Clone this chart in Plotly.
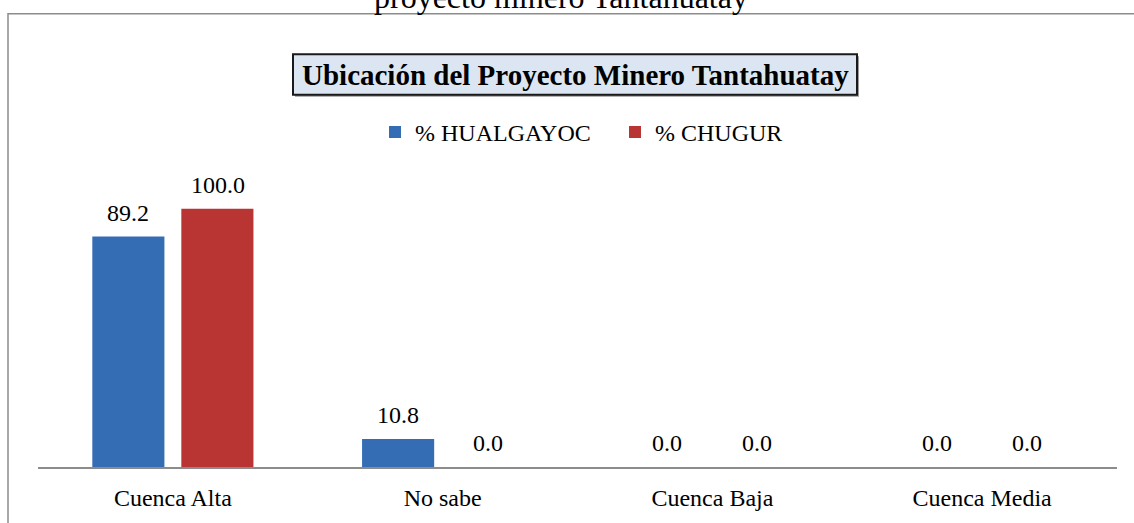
import plotly.graph_objects as go

categories = ["Cuenca Alta", "No sabe", "Cuenca Baja", "Cuenca Media"]
hualgayoc = [89.2, 10.8, 0.0, 0.0]
chugur = [100.0, 0.0, 0.0, 0.0]
series_names = ["% HUALGAYOC", "% CHUGUR"]
chart_title = "Ubicación del Proyecto Minero Tantahuatay"
top_caption = "proyecto minero Tantahuatay"

W, H = 1134, 523
L, R, T, B = 38, 17, 157, 52
PW = W - L - R
PH = H - T - B


def px_x(p):
    return (p - L) / PW


def px_y(p):
    return (H - B - p) / PH


FONT = "Liberation Serif, Times New Roman, serif"

fig = go.Figure()
fig.add_trace(go.Bar(x=categories, y=hualgayoc, name=series_names[0],
                     marker=dict(color="#356db5", line=dict(width=0))))
fig.add_trace(go.Bar(x=categories, y=chugur, name=series_names[1],
                     marker=dict(color="#b93533", line=dict(width=0))))

# data labels
for vals, shift in ((hualgayoc, -45), (chugur, 45)):
    for c, v in zip(categories, vals):
        fig.add_annotation(x=c, y=v, xref="x", yref="y", text=f"{v:.1f}",
                           showarrow=False, xshift=shift, yanchor="bottom",
                           yshift=9, font=dict(family=FONT, size=24, color="black"))

# outer border
fig.add_shape(type="rect", xref="paper", yref="paper",
              x0=px_x(8), x1=px_x(1150), y0=px_y(540), y1=px_y(12),
              line=dict(color="#8c8c8c", width=1.5), fillcolor="rgba(0,0,0,0)", layer="below")

# title box
fig.add_shape(type="rect", xref="paper", yref="paper",
              x0=px_x(295), x1=px_x(859), y0=px_y(96), y1=px_y(55),
              line=dict(width=0), fillcolor="#9a9a9a")
fig.add_shape(type="rect", xref="paper", yref="paper",
              x0=px_x(293), x1=px_x(857), y0=px_y(94), y1=px_y(53),
              line=dict(color="#1a1a1a", width=2), fillcolor="#dce6f2")
fig.add_annotation(x=px_x(575), y=px_y(74), xref="paper", yref="paper",
                   text=f"<b>{chart_title}</b>", showarrow=False,
                   xanchor="center", yanchor="middle",
                   font=dict(family=FONT, size=29, color="black"))

# cropped caption at the very top
fig.add_annotation(x=px_x(561), y=px_y(7), xref="paper", yref="paper",
                   text=top_caption, showarrow=False, xanchor="center",
                   yanchor="bottom", yshift=-8,
                   font=dict(family=FONT, size=32, color="black"))

fig.update_layout(
    width=W, height=H,
    margin=dict(l=L, r=R, t=T, b=B, pad=0),
    paper_bgcolor="white", plot_bgcolor="white",
    barmode="group", bargap=0.34, bargroupgap=0.19,
    font=dict(family=FONT, size=24, color="black"),
    showlegend=True,
    legend=dict(orientation="h", x=px_x(375), xanchor="left",
                y=px_y(132), yanchor="middle", font=dict(size=24),
                entrywidth=195, bgcolor="rgba(0,0,0,0)", traceorder="normal"),
    xaxis=dict(showline=True, linecolor="#8c8c8c", linewidth=1.5,
               ticks="", showgrid=False, zeroline=False,
               tickfont=dict(family=FONT, size=24), ticklabelstandoff=8),
    yaxis=dict(range=[0, 120], visible=False, showgrid=False, zeroline=False),
)

fig.write_html("out.html", config={"displayModeBar": False},
               post_script="document.body.style.margin='0px';document.body.style.overflow='hidden';")
